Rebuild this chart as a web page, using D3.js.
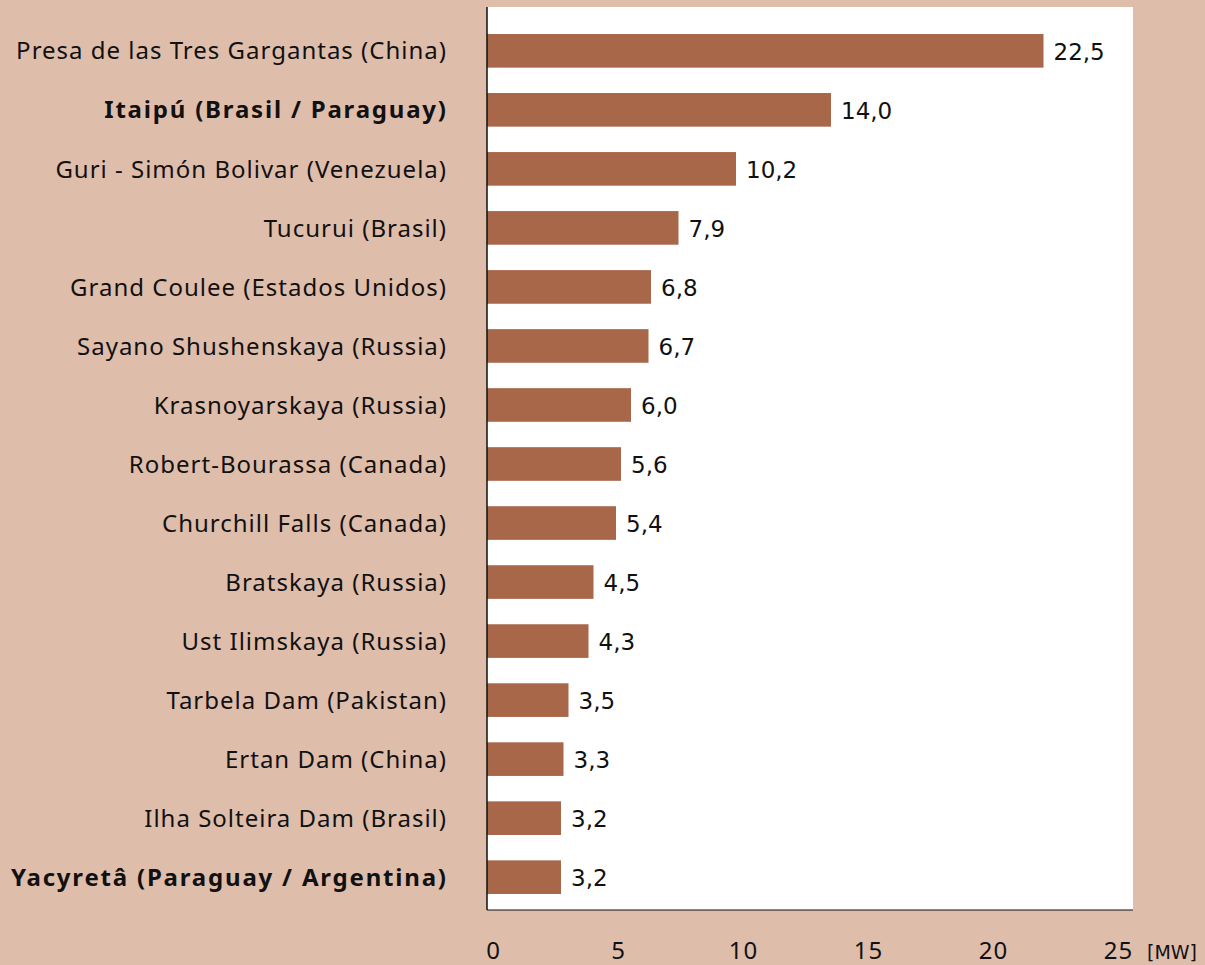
<!DOCTYPE html>
<html>
<head>
<meta charset="utf-8">
<script src="https://cdn.jsdelivr.net/npm/d3@7"></script>
<style>
  html, body { margin: 0; padding: 0; background: #dfbdab; }
  svg { display: block; }
  .cat { font-family: "Noto Sans", "Open Sans", sans-serif; font-size: 24px; letter-spacing: 1px; fill: #111; }
  .cat.bold { font-weight: bold; letter-spacing: 1.8px; }
  .val { font-family: "DejaVu Sans", sans-serif; font-size: 23px; fill: #111; }
  .tick-label { font-family: "Noto Sans", "Open Sans", sans-serif; font-size: 24px; letter-spacing: 1px; fill: #111; }
  .unit { font-family: "DejaVu Sans", sans-serif; font-size: 19px; fill: #111; }
</style>
</head>
<body>
<svg id="chart" width="1205" height="965"></svg>
<script>
// Data
const dams = [
  "Presa de las Tres Gargantas (China)",
  "Itaipú (Brasil / Paraguay)",
  "Guri - Simón Bolivar (Venezuela)",
  "Tucurui (Brasil)",
  "Grand Coulee (Estados Unidos)",
  "Sayano Shushenskaya (Russia)",
  "Krasnoyarskaya (Russia)",
  "Robert-Bourassa (Canada)",
  "Churchill Falls (Canada)",
  "Bratskaya (Russia)",
  "Ust Ilimskaya (Russia)",
  "Tarbela Dam (Pakistan)",
  "Ertan Dam (China)",
  "Ilha Solteira Dam (Brasil)",
  "Yacyretâ (Paraguay / Argentina)"
];
const capacity = [22.5, 14.0, 10.2, 7.9, 6.8, 6.7, 6.0, 5.6, 5.4, 4.5, 4.3, 3.5, 3.3, 3.2, 3.2];
const highlighted = ["Itaipú (Brasil / Paraguay)", "Yacyretâ (Paraguay / Argentina)"];
const xTicks = [0, 5, 10, 15, 20, 25];
const unitLabel = "[MW]";

const data = dams.map((name, i) => ({ name, value: capacity[i] }));

const svg = d3.select("#chart");

// Plot frame
const plot = { left: 487, right: 1133, top: 7, bottom: 910 };

const x = d3.scaleLinear().domain([0, 25]).range([481, 1106]);
const y = d3.scaleBand()
  .domain(dams)
  .range([34, 894])
  .paddingInner(0.43)
  .paddingOuter(0);

const locale = d3.formatLocale({ decimal: ",", thousands: ".", grouping: [3], currency: ["", ""] });
const fmt = locale.format(".1f");

// white plot background
svg.append("rect")
  .attr("x", plot.left)
  .attr("y", plot.top)
  .attr("width", plot.right - plot.left)
  .attr("height", plot.bottom - plot.top)
  .attr("fill", "#fff");

// bars
svg.selectAll(".bar").data(data)
  .enter().append("rect")
    .attr("class", "bar")
    .attr("x", plot.left)
    .attr("y", d => y(d.name))
    .attr("width", d => x(d.value) - plot.left)
    .attr("height", y.bandwidth())
    .attr("fill", "#a9674a");

// value labels
svg.selectAll(".val").data(data)
  .enter().append("text")
    .attr("class", "val")
    .attr("x", d => x(d.value) + 10)
    .attr("y", d => y(d.name) + y.bandwidth() / 2)
    .attr("dy", "0.38em")
    .text(d => fmt(d.value));

// category labels (letter-spacing adds a trailing gap, so shift anchor right a bit)
svg.selectAll(".cat").data(data)
  .enter().append("text")
    .attr("class", d => highlighted.includes(d.name) ? "cat bold" : "cat")
    .attr("x", d => highlighted.includes(d.name) ? 447.8 : 447)
    .attr("y", d => y(d.name) + y.bandwidth() / 2)
    .attr("dy", "0.36em")
    .attr("text-anchor", "end")
    .text(d => d.name);

// axis lines
svg.append("line")
  .attr("x1", plot.left).attr("x2", plot.left)
  .attr("y1", plot.top).attr("y2", plot.bottom)
  .attr("stroke", "#111").attr("stroke-width", 1.5);
svg.append("line")
  .attr("x1", plot.left).attr("x2", plot.right)
  .attr("y1", plot.bottom).attr("y2", plot.bottom)
  .attr("stroke", "#111").attr("stroke-width", 1.2);

// x tick labels
svg.selectAll(".tick-label").data(xTicks)
  .enter().append("text")
    .attr("class", "tick-label")
    .attr("x", d => x(d) + 12.5)
    .attr("y", 959)
    .attr("text-anchor", "middle")
    .text(d => d);

svg.append("text")
  .attr("class", "unit")
  .attr("x", 1147)
  .attr("y", 959)
  .text(unitLabel);
</script>
</body>
</html>
